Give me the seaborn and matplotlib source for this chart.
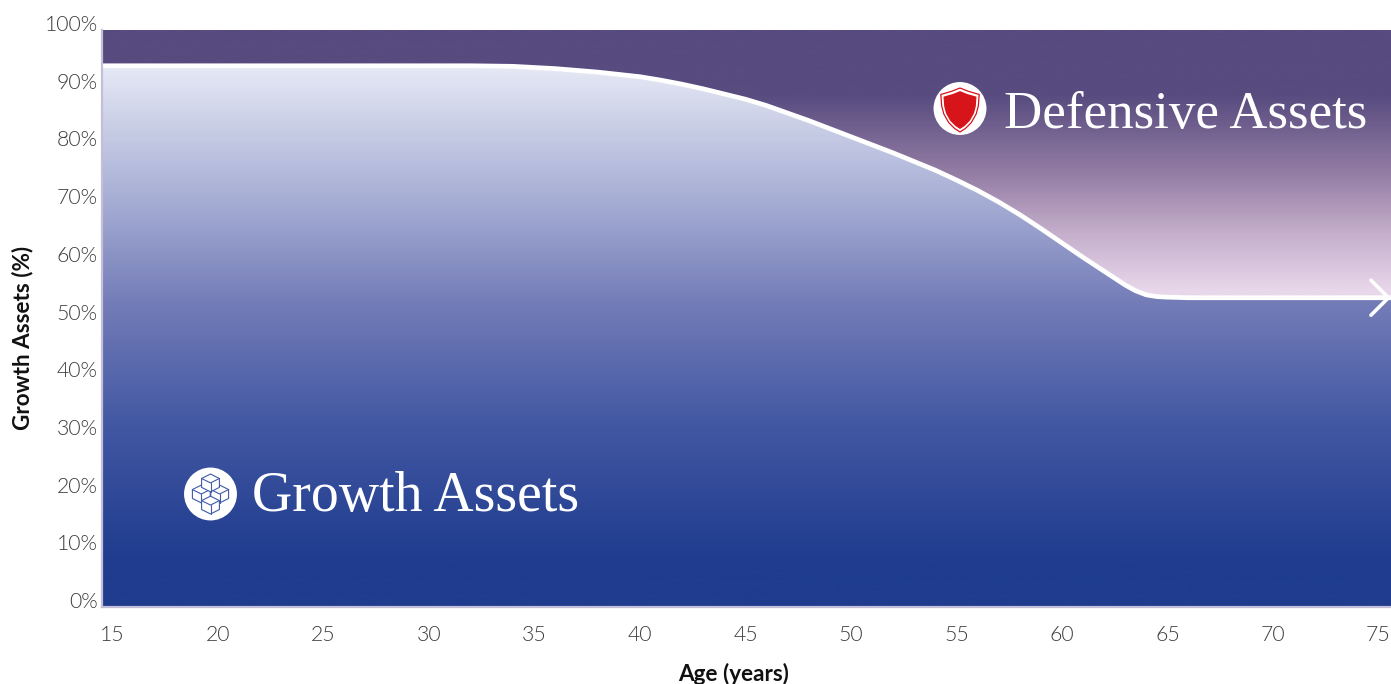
import numpy as np
import matplotlib.pyplot as plt
import matplotlib.font_manager as fm
import matplotlib.transforms as mtrans
from matplotlib.colors import LinearSegmentedColormap
from matplotlib.patches import Circle, PathPatch
from matplotlib.path import Path
import seaborn as sns
import pandas as pd

# values
ages = [14.5, 20, 25, 30, 32, 34, 35, 36, 37, 38, 39, 40, 41, 42, 43, 44, 45, 46, 47, 48, 49, 50, 51, 52, 53, 54, 55,
        56, 57, 58, 59, 60, 61, 62, 62.5, 63, 63.5, 64, 64.5, 65, 66, 68, 70, 75, 75.6]
growth = [93.8, 93.8, 93.8, 93.8, 93.8, 93.7, 93.5, 93.3, 93.0, 92.7, 92.3, 91.9, 91.3, 90.6, 89.8, 88.9, 88.0, 86.9, 85.6, 84.3, 82.9, 81.5, 80.1, 78.7, 77.2, 75.7, 74.0,
          72.2, 70.2, 68.0, 65.6, 63.1, 60.6, 58.2, 57.0, 55.8, 54.8, 54.1, 53.8, 53.7, 53.6, 53.6, 53.6, 53.6, 53.6]

x_ticks = [15, 20, 25, 30, 35, 40, 45, 50, 55, 60, 65, 70, 75]
y_ticks = [0, 10, 20, 30, 40, 50, 60, 70, 80, 90, 100]
y_labels = ['0%', '10%', '20%', '30%', '40%', '50%', '60%', '70%', '80%', '90%', '100%']

growth_colors = [(0.0, '#1f3c8e'), (0.08, '#1f3c8e'), (0.32, '#4358a3'), (0.53, '#747db8'),
                 (0.69, '#a2a9d2'), (0.94, '#e6e9f5'), (1.0, '#e6e9f5')]
defensive_colors = [(0.0, '#e8d6ea'), (0.55, '#e8d6ea'), (0.65, '#c4aecb'), (0.75, '#957ea5'),
                    (0.89, '#574b7f'), (1.0, '#574b7f')]

sns.set_theme(style='white')
plt.rcParams['font.family'] = ['Lato', 'DejaVu Sans']

# plain weight='light' picks Lato Hairline, so look the file up
light = [f.fname for f in fm.fontManager.ttflist if 'Lato-Light.' in f.fname]
tick_font = fm.FontProperties(fname=light[0], size=15.3) if light else fm.FontProperties(family='Lato', size=15.3)

W, H = 1391, 684
fig = plt.figure(figsize=(W / 100, H / 100), dpi=100)
ax = fig.add_axes([102 / W, 1 - 607 / H, (1391 - 102) / W, (607 - 30) / H])

df = pd.DataFrame({'age': ages, 'growth': growth})

# background gradients
ramp = np.linspace(1, 0, 600).reshape(-1, 1)
ext = [ages[0], ages[-1], 0, 100]
cmap_d = LinearSegmentedColormap.from_list('defensive', defensive_colors)
cmap_g = LinearSegmentedColormap.from_list('growth', growth_colors)
ax.imshow(ramp, cmap=cmap_d, vmin=0, vmax=1, extent=ext, aspect='auto', zorder=1)
img = ax.imshow(ramp, cmap=cmap_g, vmin=0, vmax=1, extent=ext, aspect='auto', zorder=2)
area = ax.fill_between(df['age'], 0, df['growth'], color='none', lw=0)
img.set_clip_path(area.get_paths()[0], transform=ax.transData)

sns.lineplot(data=df, x='age', y='growth', color='white', linewidth=3.4, ax=ax, zorder=3, sort=False)
ax.annotate('', xy=(ages[-1], growth[-1]), xytext=(ages[-2] - 2, growth[-2]), zorder=4,
            arrowprops=dict(arrowstyle='->,head_length=1.05,head_width=1.05', color='white', lw=2.6,
                            shrinkA=0, shrinkB=0), annotation_clip=False)

ax.set_xlim(ages[0], ages[-1])
ax.set_ylim(0, 100)
ax.set_xticks(x_ticks)
ax.set_yticks(y_ticks)
ax.set_yticklabels(y_labels)
ax.tick_params(axis='both', length=0)
ax.tick_params(axis='y', pad=3)
ax.tick_params(axis='x', pad=13)
# tick labels sit a little above their gridline in the original
shift = mtrans.ScaledTranslation(0, 7 / 100, fig.dpi_scale_trans)
for lab in ax.get_yticklabels():
    lab.set_fontproperties(tick_font)
    lab.set_color('#3c3c3c')
    lab.set_transform(lab.get_transform() + shift)
for lab in ax.get_xticklabels():
    lab.set_fontproperties(tick_font)
    lab.set_color('#3c3c3c')

ax.set_xlabel('Age (years)', fontsize=16.2, fontweight='bold', color='#111111')
ax.set_ylabel('Growth Assets (%)', fontsize=16.2, fontweight='bold', color='#111111')
ax.xaxis.set_label_coords((734 - 102) / (W - 102), -(663 - 607) / (607 - 30))
ax.yaxis.set_label_coords(-(102 - 33) / (W - 102), (607 - 338) / (607 - 30))

for s in ['top', 'right']:
    ax.spines[s].set_visible(False)
for s in ['left', 'bottom']:
    ax.spines[s].set_color('#c4bfd8')
    ax.spines[s].set_linewidth(1.6)
    ax.spines[s].set_zorder(5)

ax.text(1004, H - 128, 'Defensive Assets', transform=None, family='Liberation Serif', fontsize=38.1,
        color='white', va='baseline', ha='left', zorder=6)
ax.text(252, H - 511, 'Growth Assets', transform=None, family='Liberation Serif', fontsize=40.2,
        color='white', va='baseline', ha='left', zorder=6)


def icon_axes(cx, cy, r=27):
    # small overlay in pixel position, coordinates -1..1 inside
    b = fig.add_axes([(cx - r) / W, 1 - (cy + r) / H, 2 * r / W, 2 * r / H])
    b.set_xlim(-1, 1)
    b.set_ylim(-1, 1)
    b.axis('off')
    b.add_patch(Circle((0, 0), 0.98, color='white', lw=0))
    return b


shield = icon_axes(960, 108.5)
half = [(0, 0.76), (0.3, 0.64), (0.71, 0.52), (0.68, 0.1), (0.6, -0.2), (0.42, -0.52), (0.2, -0.74), (0, -0.87)]
outline = half + [(-x, y) for x, y in half[-2::-1]]
shield.add_patch(PathPatch(Path(outline), fc='white', ec='#d7141a', lw=0.9))
inner = [(p[0] * 0.86, p[1] * 0.86 - 0.01) for p in outline]
shield.add_patch(PathPatch(Path(inner), fc='#d7141a', ec='none'))

cubes = icon_axes(210.5, 494)
for z, (dx, dy) in enumerate([(-0.34, 0.0), (0.34, 0.0), (0, 0.41), (0, -0.41)]):
    s = 0.33
    hex_x = [dx, dx + s, dx + s, dx, dx - s, dx - s, dx]
    hex_y = [dy + s, dy + s / 2, dy - s / 2, dy - s, dy - s / 2, dy + s / 2, dy + s]
    cubes.fill(hex_x, hex_y, fc='white', ec='#3f5aa8', lw=0.8, zorder=3 + z)
    cubes.plot([dx - s, dx, dx + s], [dy + s / 2, dy, dy + s / 2], color='#3f5aa8', lw=0.8, zorder=3 + z)
    cubes.plot([dx, dx], [dy, dy - s], color='#3f5aa8', lw=0.8, zorder=3 + z)

fig.savefig('out.png', dpi=100)
